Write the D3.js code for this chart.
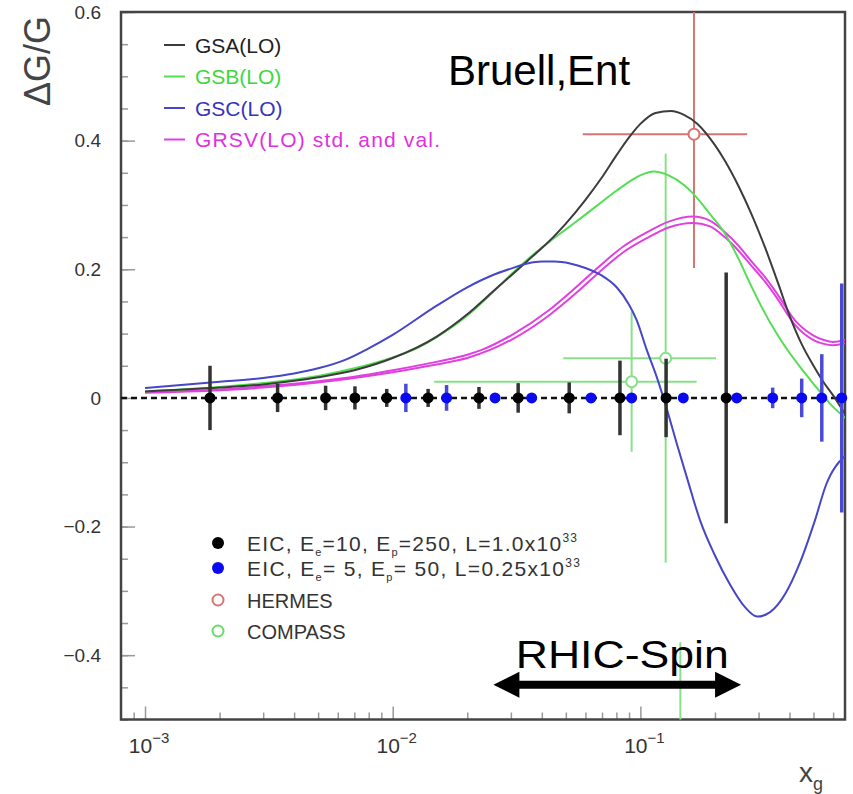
<!DOCTYPE html>
<html>
<head>
<meta charset="utf-8">
<script src="https://d3js.org/d3.v7.min.js"></script>
<style>
  body { margin: 0; background: #fff; }
  text { font-family: "Liberation Sans", Arial, Helvetica, sans-serif; }
</style>
</head>
<body>
<svg id="chart" width="853" height="794"></svg>
<script>
// curves: [x_g, dG/G]
var gsa = [[0.001,0.010],[0.002,0.016],[0.003,0.021],[0.005,0.032],[0.007,0.043],[0.01,0.062],[0.015,0.095],[0.02,0.13],[0.025,0.163],[0.03,0.19],[0.035,0.213],[0.04,0.233],[0.045,0.252],[0.05,0.271],[0.06,0.308],[0.07,0.343],[0.08,0.377],[0.09,0.405],[0.1,0.426],[0.115,0.443],[0.133,0.446],[0.15,0.440],[0.17,0.426],[0.2,0.393],[0.22,0.368],[0.25,0.328],[0.28,0.287],[0.32,0.232],[0.36,0.178],[0.4,0.128],[0.45,0.082],[0.5,0.050],[0.55,0.024],[0.6,0.004],[0.67,-0.025]]
var gsb = [[0.001,0.010],[0.002,0.017],[0.003,0.023],[0.005,0.034],[0.007,0.046],[0.01,0.063],[0.0125,0.077],[0.015,0.094],[0.02,0.128],[0.025,0.162],[0.031,0.197],[0.037,0.223],[0.043,0.243],[0.05,0.262],[0.06,0.285],[0.07,0.305],[0.08,0.322],[0.09,0.336],[0.1,0.346],[0.113,0.352],[0.13,0.346],[0.15,0.331],[0.163,0.318],[0.19,0.287],[0.219,0.256],[0.25,0.215],[0.277,0.178],[0.31,0.14],[0.355,0.10],[0.39,0.076],[0.45,0.044],[0.5,0.022],[0.58,-0.008],[0.67,-0.031]]
var gsc = [[0.001,0.0155],[0.002,0.025],[0.003,0.031],[0.004,0.038],[0.005,0.046],[0.0065,0.06],[0.0079,0.076],[0.01,0.098],[0.015,0.143],[0.02,0.172],[0.025,0.19],[0.03,0.201],[0.035,0.209],[0.04,0.212],[0.045,0.212],[0.052,0.209],[0.06,0.202],[0.07,0.19],[0.0802,0.172],[0.09,0.145],[0.0966,0.121],[0.106,0.075],[0.117,0.03],[0.127,-0.0135],[0.14,-0.07],[0.155,-0.127],[0.174,-0.19],[0.2,-0.245],[0.23,-0.29],[0.264,-0.325],[0.296,-0.34],[0.334,-0.333],[0.384,-0.305],[0.442,-0.255],[0.507,-0.19],[0.562,-0.135],[0.67,-0.09]]
var grsvStd = [[0.001,0.009],[0.002,0.013],[0.003,0.018],[0.005,0.026],[0.007,0.033],[0.01,0.043],[0.015,0.056],[0.02,0.067],[0.023,0.075],[0.03,0.097],[0.043,0.137],[0.055,0.172],[0.068,0.204],[0.085,0.235],[0.107,0.258],[0.13,0.274],[0.163,0.282],[0.19,0.276],[0.219,0.258],[0.25,0.236],[0.277,0.215],[0.315,0.19],[0.355,0.163],[0.42,0.121],[0.5,0.097],[0.55,0.09],[0.6,0.087],[0.67,0.09]]
var grsvVal = [[0.001,0.008],[0.002,0.012],[0.003,0.016],[0.005,0.024],[0.007,0.031],[0.01,0.04],[0.015,0.052],[0.02,0.062],[0.03,0.09],[0.043,0.129],[0.055,0.163],[0.068,0.195],[0.085,0.226],[0.107,0.249],[0.13,0.265],[0.163,0.272],[0.19,0.267],[0.219,0.25],[0.25,0.228],[0.277,0.208],[0.315,0.183],[0.355,0.156],[0.42,0.114],[0.5,0.09],[0.55,0.084],[0.6,0.082],[0.67,0.085]]

// EIC projections at dG/G = 0: [x_g, error]
var eicHigh = [[0.00183,0.05],[0.00343,0.022],[0.00536,0.019],[0.00704,0.018],[0.00946,0.014],[0.0139,0.014],[0.0223,0.017],[0.0321,0.023],[0.0516,0.024],[0.0827,0.058],[0.127,0.061],[0.222,0.195]]
var eicLow = [[0.0113,0.022],[0.0165,0.02],[0.0259,0.004],[0.0364,0.004],[0.0632,0.004],[0.0922,0.004],[0.149,0.004],[0.245,0.004],[0.342,0.016],[0.448,0.03],[0.54,0.068],[0.65,0.178]]

// measurements: [x, y, xlow, xhigh, yerr]
var hermes = [[0.1646,0.41,0.0585,0.270,0.208]]
var compass = [[0.0922,0.0253,0.0147,0.1687,0.109],[0.1265,0.0617,0.0488,0.202,0.318],[0.145,-0.8,0.145,0.145,0.42]]

var yTicks = [-0.4, -0.2, 0, 0.2, 0.4, 0.6]
var xTicks = [1e-3, 1e-2, 1e-1]
var xTickExp = ['\u22123', '\u22122', '\u22121']
var rhicRange = [0.0255, 0.255]
var rhicLevel = -0.446

var svg = d3.select('#chart')
var x = d3.scaleLog().domain([8e-4, 0.67]).range([121, 845])
var y = d3.scaleLinear().domain([-0.5, 0.6]).range([719.5, 12])

svg.append('defs').append('clipPath').attr('id', 'clip')
  .append('rect')
  .attr('x', x.range()[0]).attr('y', y.range()[1])
  .attr('width', x.range()[1] - x.range()[0])
  .attr('height', y.range()[0] - y.range()[1])

// ticks (inside the frame, ROOT style)
var yMinor = d3.range(-0.5, 0.6001, 0.05).map(function (d) { return +d.toFixed(2) })
var xMinor = []
;[1e-4, 1e-3, 1e-2, 1e-1].forEach(function (dec) {
  for (var k = 2; k <= 9; k++) {
    var v = dec * k
    if (v > x.domain()[0] && v < x.domain()[1]) xMinor.push(v)
  }
})

function tickStyle (g) {
  g.select('.domain').remove()
  g.selectAll('line').attr('stroke', '#999').attr('stroke-width', 1.5)
}

svg.append('g').attr('transform', 'translate(' + x.range()[0] + ',0)')
  .call(d3.axisLeft(y).tickValues(yMinor).tickSize(-7).tickFormat(''))
  .call(tickStyle)
svg.append('g').attr('transform', 'translate(' + x.range()[0] + ',0)')
  .call(d3.axisLeft(y).tickValues(yTicks).tickSize(-14).tickPadding(20)
    .tickFormat(function (d) { return d === 0 ? '0' : d3.format('.1f')(d) }))
  .call(tickStyle)
  .call(function (g) {
    g.selectAll('text').attr('font-size', 19).attr('fill', '#333')
      .attr('font-family', '"Liberation Sans", Arial, sans-serif')
  })

svg.append('g').attr('transform', 'translate(0,' + y.range()[0] + ')')
  .call(d3.axisBottom(x).tickValues(xMinor).tickSize(-7).tickFormat(''))
  .call(tickStyle)
svg.append('g').attr('transform', 'translate(0,' + y.range()[0] + ')')
  .call(d3.axisBottom(x).tickValues(xTicks).tickSize(-13).tickFormat(''))
  .call(tickStyle)

var xl = svg.selectAll('.xlab').data(xTicks).enter().append('text')
  .attr('class', 'xlab')
  .attr('x', function (d) { return x(d) + 4 })
  .attr('y', 753)
  .attr('text-anchor', 'middle')
  .attr('font-size', 21).attr('fill', '#333')
xl.append('tspan').text('10')
xl.append('tspan').attr('dy', -10).attr('font-size', 15)
  .text(function (d, i) { return xTickExp[i] })

// frame
svg.append('rect')
  .attr('x', x.range()[0]).attr('y', y.range()[1])
  .attr('width', x.range()[1] - x.range()[0])
  .attr('height', y.range()[0] - y.range()[1])
  .attr('fill', 'none').attr('stroke', '#444').attr('stroke-width', 2.5)

// axis titles
svg.append('text')
  .attr('transform', 'translate(50,61) rotate(-90)')
  .attr('text-anchor', 'middle')
  .attr('font-size', 36).attr('fill', '#444')
  .text('\u0394G/G')
var xt = svg.append('text').attr('x', 799).attr('y', 782)
  .attr('font-size', 28).attr('fill', '#444')
xt.append('tspan').text('x')
xt.append('tspan').attr('dy', 8).attr('font-size', 18).text('g')

var plotArea = svg.append('g').attr('clip-path', 'url(#clip)')

// zero line
plotArea.append('line')
  .attr('x1', x.range()[0]).attr('x2', x.range()[1])
  .attr('y1', y(0)).attr('y2', y(0))
  .attr('stroke', '#111').attr('stroke-width', 2.5)
  .attr('stroke-dasharray', '6,4')

var line = d3.line()
  .x(function (d) { return x(d[0]) })
  .y(function (d) { return y(d[1]) })
  .curve(d3.curveMonotoneX)

var curves = [
  { data: grsvVal, color: '#e040e0' },
  { data: grsvStd, color: '#e040e0' },
  { data: gsb, color: '#55dd55' },
  { data: gsa, color: '#3c3c3c' },
  { data: gsc, color: '#4646c8' }
]

// measurements with error crosses
function drawMeas (data, color) {
  var g = plotArea.append('g')
  data.forEach(function (d) {
    g.append('line')
      .attr('x1', x(d[2])).attr('x2', x(d[3]))
      .attr('y1', y(d[1])).attr('y2', y(d[1]))
      .attr('stroke', color).attr('stroke-width', 2)
    g.append('line')
      .attr('x1', x(d[0])).attr('x2', x(d[0]))
      .attr('y1', y(d[1] - d[4])).attr('y2', y(d[1] + d[4]))
      .attr('stroke', color).attr('stroke-width', 2)
    g.append('circle')
      .attr('cx', x(d[0])).attr('cy', y(d[1])).attr('r', 5.5)
      .attr('fill', '#fff').attr('stroke', color).attr('stroke-width', 2)
  })
}
drawMeas(compass, '#88e088')
drawMeas(hermes, '#d87474')

curves.forEach(function (c) {
  plotArea.append('path')
    .datum(c.data)
    .attr('d', line)
    .attr('fill', 'none')
    .attr('stroke', c.color)
    .attr('stroke-width', 2)
})

function drawEic (data, barColor, dotColor) {
  var g = svg.append('g')
  g.selectAll('line').data(data).enter().append('line')
    .attr('x1', function (d) { return x(d[0]) })
    .attr('x2', function (d) { return x(d[0]) })
    .attr('y1', function (d) { return y(d[1]) })
    .attr('y2', function (d) { return y(-d[1]) })
    .attr('stroke', barColor).attr('stroke-width', 3.5)
  g.selectAll('circle').data(data).enter().append('circle')
    .attr('cx', function (d) { return x(d[0]) })
    .attr('cy', y(0))
    .attr('r', 5.5)
    .attr('fill', dotColor)
}
drawEic(eicHigh, '#333', '#000')
drawEic(eicLow, '#4a4ad8', '#0a0af0')

// legend, top
var topLegend = [
  { label: 'GSA(LO)', color: '#3c3c3c', text: '#222', len: null },
  { label: 'GSB(LO)', color: '#55dd55', text: '#3cd83c', len: null },
  { label: 'GSC(LO)', color: '#4646c8', text: '#3434c4', len: null },
  { label: 'GRSV(LO) std. and val.', color: '#e040e0', text: '#e030e0', len: 245 }
]
var tl = svg.append('g').selectAll('g').data(topLegend).enter().append('g')
  .attr('transform', function (d, i) { return 'translate(0,' + (45 + i * 31.5) + ')' })
tl.append('line').attr('x1', 164).attr('x2', 185)
  .attr('stroke', function (d) { return d.color }).attr('stroke-width', 2)
tl.append('text').attr('x', 195).attr('y', 7.5)
  .attr('font-size', 21)
  .attr('fill', function (d) { return d.text })
  .attr('textLength', function (d) { return d.len })
  .text(function (d) { return d.label })

// legend, bottom
var bl = svg.append('g')
function legendRow (yy, marker, parts, len) {
  if (marker === 'black' || marker === 'blue') {
    bl.append('circle').attr('cx', 218).attr('cy', yy).attr('r', 6)
      .attr('fill', marker === 'black' ? '#000' : '#0a0af0')
  } else {
    bl.append('circle').attr('cx', 218).attr('cy', yy).attr('r', 5.5)
      .attr('fill', 'none').attr('stroke', marker).attr('stroke-width', 2)
  }
  var t = bl.append('text').attr('x', 247).attr('y', yy + 7.5)
    .attr('font-size', len ? 21 : 20).attr('fill', '#333')
  if (len) t.attr('textLength', len).attr('lengthAdjust', 'spacing')
  parts.forEach(function (p) {
    var s = t.append('tspan').text(p[0])
    if (p[1] === 'sub') s.attr('font-size', 11).attr('dy', 5)
    if (p[1] === 'up') s.attr('dy', -5)
    if (p[1] === 'sup') s.attr('font-size', 12).attr('dy', -9)
  })
}
legendRow(543, 'black', [['EIC, E'], ['e', 'sub'], ['=10, E', 'up'], ['p', 'sub'], ['=250, L=1.0x10', 'up'], ['33', 'sup']], 330)
legendRow(568, 'blue', [['EIC, E'], ['e', 'sub'], ['= 5, E', 'up'], ['p', 'sub'], ['= 50, L=0.25x10', 'up'], ['33', 'sup']], 333)
legendRow(600, '#d87474', [['HERMES']])
legendRow(631, '#66dd66', [['COMPASS']])

// annotations
svg.append('text').attr('x', 448).attr('y', 85)
  .attr('font-size', 42).attr('fill', '#000')
  .text('Bruell,Ent')

var ax0 = x(rhicRange[0]), ax1 = x(rhicRange[1]), ay = y(rhicLevel)
svg.append('line').attr('x1', ax0 + 20).attr('x2', ax1 - 20)
  .attr('y1', ay).attr('y2', ay)
  .attr('stroke', '#000').attr('stroke-width', 8)
svg.append('path')
  .attr('d', 'M' + ax0 + ',' + ay + 'L' + (ax0 + 26) + ',' + (ay - 13) + 'L' + (ax0 + 26) + ',' + (ay + 13) + 'Z' +
             'M' + ax1 + ',' + ay + 'L' + (ax1 - 26) + ',' + (ay - 13) + 'L' + (ax1 - 26) + ',' + (ay + 13) + 'Z')
  .attr('fill', '#000')
svg.append('text').attr('x', (ax0 + ax1) / 2 + 5).attr('y', 668)
  .attr('text-anchor', 'middle')
  .attr('font-family', '"DejaVu Sans", sans-serif')
  .attr('font-size', 38).attr('fill', '#000')
  .attr('textLength', 213).attr('lengthAdjust', 'spacingAndGlyphs')
  .text('RHIC-Spin')
</script>
</body>
</html>
